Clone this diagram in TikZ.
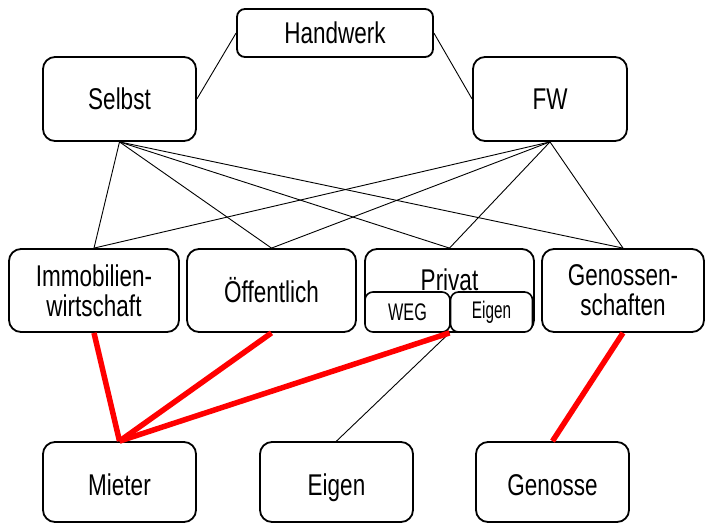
\documentclass[tikz,border=0pt]{standalone}
\usepackage{fontspec}
\setmainfont{Liberation Sans}[FakeStretch=0.75]
\usepackage{graphicx}
\begin{document}
\begin{tikzpicture}[x=1pt,y=-1pt,
  box/.style={draw=black, line width=1.8pt, rounded corners=12pt, fill=white, inner sep=0pt, align=center,
    font=\fontsize{30}{30}\selectfont},
  bottombox/.style={box, minimum width=153pt, minimum height=80pt, text height=28pt, text depth=2pt},
  smallbox/.style={draw=black, line width=1.6pt, rounded corners=8pt, fill=white, inner sep=0pt,
    font=\fontsize{24}{24}\selectfont},
  thin/.style={draw=black, line width=0.9pt},
  redline/.style={draw=red, line width=5.5pt}]
\useasboundingbox (0,0) rectangle (705,523);
\node[box, rounded corners=8pt, minimum width=196pt, minimum height=48pt] (hw) at (335,33) {Handwerk};
\node[box, minimum width=153pt, minimum height=84pt] (selbst) at (119.5,99) {Selbst};
\node[box, minimum width=154pt, minimum height=84pt] (fw) at (550,99) {FW};
\node[box, minimum width=170pt, minimum height=83pt] (immo) at (94,290.5) {Immobilien-\\wirtschaft};
\node[box, minimum width=169pt, minimum height=83pt] (oeff) at (271.5,290.5) {Öffentlich};
\node[box, minimum width=169pt, minimum height=83pt] (privat) at (449.5,290.5) {};
\node[font=\fontsize{30}{30}\selectfont, inner sep=0pt] (privattxt) at (449.5,280) {Privat};
\node[smallbox, minimum width=85pt, minimum height=40pt] (weg) at (407.5,312) {\scalebox{0.9}[1]{WEG}};
\node[smallbox, minimum width=82pt, minimum height=40pt] (eigens) at (491.5,312) {\scalebox{0.85}[1]{Eigen}};
\node[box, minimum width=162pt, minimum height=83pt] (gen) at (623,290.5) {Genossen-\\schaften};
\node[bottombox] (mieter) at (119.5,482) {Mieter};
\node[bottombox] (eigen) at (336.5,482) {Eigen};
\node[bottombox] (genosse) at (552.5,482) {Genosse};
\draw[thin] (hw.west) -- (selbst.east);
\draw[thin] (hw.east) -- (fw.west);
\foreach \t in {immo,oeff,privat,gen} {
  \draw[thin] (selbst.south) -- (\t.north);
  \draw[thin] (fw.south) -- (\t.north);
}
\draw[thin] (privat.south) -- (eigen.north);
\draw[redline] (immo.south) -- (mieter.north);
\draw[redline] (oeff.south) -- (mieter.north);
\draw[redline] (privat.south) -- (mieter.north);
\draw[redline] (gen.south) -- (genosse.north);
\end{tikzpicture}
\end{document}
